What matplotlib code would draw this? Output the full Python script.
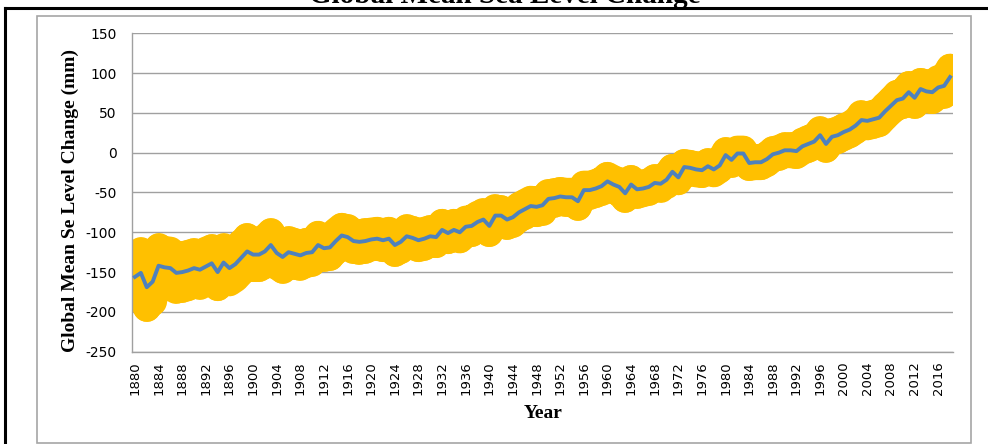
import numpy as np
import matplotlib
matplotlib.use('Agg')
from matplotlib import pyplot as plt
from matplotlib.lines import Line2D
from matplotlib.patches import Rectangle

# 数据：全球平均海平面变化 (mm)
years = list(range(1880, 2019))
gmsl = [-156, -151, -169, -162, -142, -144, -145, -151, -150, -148,
        -145, -147, -143, -139, -150, -138, -145, -140, -132, -124,
        -128, -128, -124, -116, -126, -131, -125, -127, -129, -126,
        -125, -116, -120, -119, -111, -104, -106, -111, -112, -111,
        -109, -108, -110, -108, -116, -112, -105, -107, -110, -108,
        -105, -106, -97, -101, -97, -100, -93, -92, -87, -84,
        -92, -79, -79, -84, -81, -75, -71, -67, -68, -66,
        -58, -57, -55, -56, -56, -61, -47, -47, -45, -42,
        -36, -40, -43, -51, -40, -46, -45, -43, -38, -39,
        -34, -24, -31, -18, -19, -21, -22, -17, -21, -16,
        -3, -9, -1, -1, -13, -12, -12, -8, -2, 0,
        3, 3, 2, 8, 11, 14, 22, 11, 20, 22,
        26, 29, 34, 41, 40, 42, 44, 52, 59, 66,
        68, 76, 69, 80, 77, 76, 82, 84, 95]
# 误差范围 (mm)
err = [27, 27, 26, 25, 23, 22, 22, 21, 21, 21,
       20, 20, 20, 19, 19, 19, 18, 18, 18, 18,
       17, 17, 17, 16, 16, 16, 15, 15, 14, 14,
       13, 13, 12, 12, 12, 11, 11, 11, 11, 11,
       10, 10, 10, 10, 10, 10, 10, 10, 10, 10,
       9, 9, 9, 9, 9, 9, 9, 9, 9, 9,
       9, 9, 8, 8, 8, 8, 8, 8, 8, 8,
       7, 7, 7, 7, 7, 7, 7, 7, 7, 7,
       7, 7, 7, 7, 7, 7, 6, 6, 6, 6,
       6, 5, 5, 5, 5, 5, 5, 5, 5, 5,
       5, 5, 5, 5, 5, 5, 5, 5, 5, 5,
       5, 5, 5, 6, 6, 6, 6, 6, 6, 6,
       6, 6, 6, 7, 7, 7, 7, 7, 7, 8,
       8, 9, 9, 9, 10, 10, 10, 11, 12]
yticks = [150, 100, 50, 0, -50, -100, -150, -200, -250]
xticks = list(range(1880, 2017, 4))

x = np.array(years)
y = np.array(gmsl)
e = np.array(err)
lo = y - e
hi = y + e

fig = plt.figure(figsize=(9.88, 4.44), dpi=100)
ax = fig.add_axes([132 / 988, 1 - 351.7 / 444, (953 - 132) / 988, (351.7 - 33.3) / 444])

yellow = '#FFC000'
ax.fill_between(x, lo, hi, color=yellow, lw=0, zorder=2)
vl = ax.vlines(x, lo, hi, colors=yellow, linewidth=20, zorder=2)
vl.set_capstyle('round')
ax.plot(x, hi, color=yellow, lw=20, zorder=2, solid_joinstyle='round', solid_capstyle='round')
ax.plot(x, lo, color=yellow, lw=20, zorder=2, solid_joinstyle='round', solid_capstyle='round')
ax.plot(x, y, color='#4F81BD', lw=2.8, zorder=3, solid_joinstyle='round')

ax.set_xlim(1879.5, 2018.5)
ax.set_ylim(-250, 150)
ax.set_yticks(yticks)
ax.set_xticks(xticks)
ax.set_xticklabels([str(t) for t in xticks], rotation=90, fontsize=9.5, family='DejaVu Sans')
ax.set_yticklabels([str(t) for t in yticks], fontsize=10, family='DejaVu Sans')
ax.tick_params(axis='x', length=0, pad=7)
ax.tick_params(axis='y', length=0, pad=11)
ax.grid(axis='y', color='#A0A0A0', lw=1.0)
ax.set_axisbelow(True)
for s in ['top', 'right']:
    ax.spines[s].set_visible(False)
for s in ['left', 'bottom']:
    ax.spines[s].set_color('#A0A0A0')
    ax.spines[s].set_linewidth(1.0)

# 标签
fig.text(70 / 988, 1 - 200 / 444, 'Global Mean Se Level Change (mm)', rotation=90,
         ha='center', va='center', fontsize=14, fontweight='bold', family='Liberation Serif')
fig.text(543 / 988, 1 - 413 / 444, 'Year', ha='center', va='center',
         fontsize=14, fontweight='bold', family='Liberation Serif')
fig.text(505 / 988, 1 - 3.0 / 444, 'Global Mean Sea Level Change', ha='center', va='baseline',
         fontsize=21, fontweight='bold', family='Liberation Serif')

# 边框
fig.add_artist(Rectangle((37 / 988, 1 - 442.7 / 444), (970.7 - 37) / 988, (442.7 - 16) / 444,
                         transform=fig.transFigure, fill=False, edgecolor='#A6A6A6', lw=1.2))
fig.add_artist(Line2D([5 / 988, 5 / 988], [0, 1 - 8.5 / 444], transform=fig.transFigure,
                      color='black', lw=2.2))
fig.add_artist(Line2D([5 / 988, 1], [1 - 8.5 / 444, 1 - 8.5 / 444], transform=fig.transFigure,
                      color='black', lw=2.2))

fig.savefig('out.png', dpi=100)
